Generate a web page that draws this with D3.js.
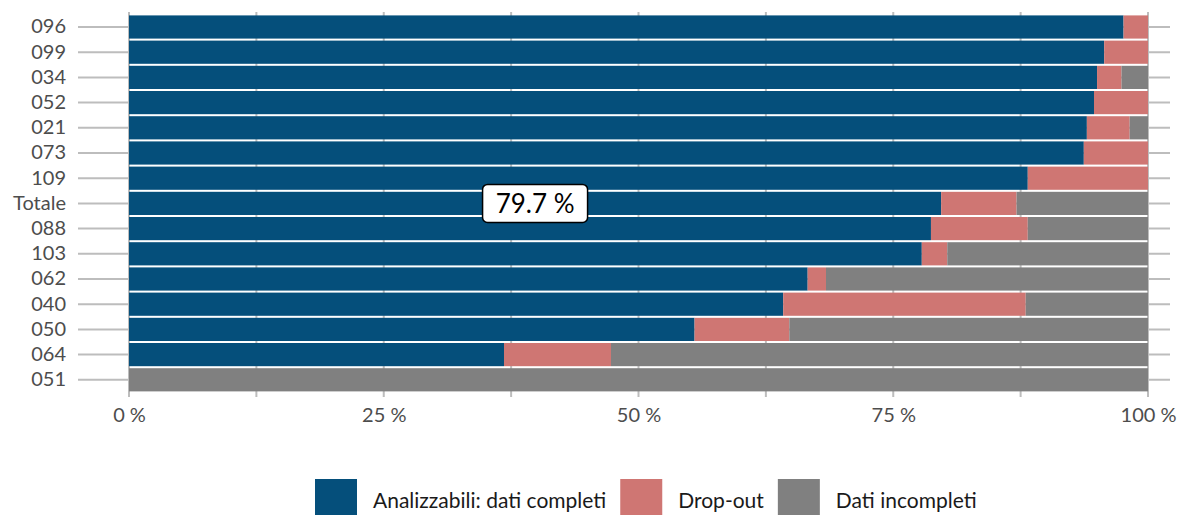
<!DOCTYPE html>
<html>
<head>
<meta charset="utf-8">
<script src="https://cdn.jsdelivr.net/npm/d3@7"></script>
<style>
  body { margin: 0; background: #fff; }
  svg { display: block; font-family: Lato, "Open Sans", sans-serif; }
</style>
</head>
<body>
<div id="chart"></div>
<script>
let chart_width = 1184;
let chart_height = 515;

// site codes, top to bottom
const sites = ["096","099","034","052","021","073","109","Totale","088","103","062","040","050","064","051"];
// percentages per site
const completi   = [97.6, 95.7, 95.0, 94.7, 94.0, 93.7, 88.2, 79.7, 78.7, 77.8, 66.6, 64.2, 55.5, 36.8, 0];
const dropout    = [ 2.4,  4.3,  2.4,  5.3,  4.2,  6.3, 11.8,  7.4,  9.5,  2.5,  1.8, 23.8,  9.3, 10.5, 0];
const incompleti = [ 0,    0,    2.6,  0,    1.8,  0,    0,   12.9, 11.8, 19.7, 31.6, 12.0, 35.2, 52.7, 100];

const seriesKeys = ["completi","dropout","incompleti"];
const seriesNames = ["Analizzabili: dati completi","Drop-out","Dati incompleti"];
const seriesColors = ["#054f7b","#cf7673","#808080"];
const xTicks = [0, 25, 50, 75, 100];
const labelSite = "Totale";

let rows = sites.map((s, i) => ({site: s, completi: completi[i], dropout: dropout[i], incompleti: incompleti[i]}));

let xScale = d3.scaleLinear().domain([0, 100]).range([129, 1148]);
let yScale = d3.scaleBand().domain(sites).range([14.4, 392.4]).paddingInner(0.08).paddingOuter(0.04);
let color = d3.scaleOrdinal().domain(seriesKeys).range(seriesColors);

let svg = d3.select('#chart')
    .append('svg')
    .attr('width', chart_width)
    .attr('height', chart_height);

// grid
let grid = svg.append('g').attr('class', 'grid');
grid.selectAll('line.h')
    .data(sites)
    .enter()
    .append('line')
    .attr('class', 'h')
    .attr('x1', 78)
    .attr('x2', 1170)
    .attr('y1', d => yScale(d) + yScale.bandwidth() / 2)
    .attr('y2', d => yScale(d) + yScale.bandwidth() / 2)
    .attr('stroke', '#bdbdbd')
    .attr('stroke-width', 2);

grid.selectAll('line.v')
    .data(d3.range(0, 100.1, 12.5))
    .enter()
    .append('line')
    .attr('class', 'v')
    .attr('x1', d => xScale(d))
    .attr('x2', d => xScale(d))
    .attr('y1', 12)
    .attr('y2', 397)
    .attr('stroke', '#bdbdbd')
    .attr('stroke-width', 2);

// bars
let stacked = d3.stack().keys(seriesKeys)(rows);

svg.append('g')
    .selectAll('g')
    .data(stacked)
    .enter()
    .append('g')
    .attr('fill', d => color(d.key))
    .selectAll('rect')
    .data(d => d)
    .enter()
    .append('rect')
    .attr('x', d => xScale(d[0]))
    .attr('y', d => yScale(d.data.site))
    .attr('width', d => xScale(d[1]) - xScale(d[0]))
    .attr('height', yScale.bandwidth());

// axes
let yAxis = svg.append('g')
    .attr('transform', 'translate(78,0)')
    .call(d3.axisLeft(yScale).tickSize(0).tickPadding(12));
yAxis.select('.domain').remove();
yAxis.selectAll('text')
    .attr('fill', '#4d4d4d')
    .style('font-size', '20px')
    .style('font-family', 'Lato');

let xAxis = svg.append('g')
    .attr('transform', 'translate(0,397)')
    .call(d3.axisBottom(xScale).tickValues(xTicks).tickSize(0).tickPadding(11).tickFormat(d => d + ' %'));
xAxis.select('.domain').remove();
xAxis.selectAll('text')
    .attr('fill', '#4d4d4d')
    .style('font-size', '20px')
    .style('font-family', 'Lato');

// label on Totale
let li = sites.indexOf(labelSite);
let lab = svg.append('g')
    .attr('transform', 'translate(' + xScale(completi[li] / 2) + ',' + (yScale(labelSite) + yScale.bandwidth() / 2) + ')');
let labBox = lab.append('rect')
    .attr('fill', '#fff')
    .attr('stroke', '#000')
    .attr('stroke-width', 1.5)
    .attr('rx', 5);
let labText = lab.append('text')
    .text(completi[li].toFixed(1) + ' %')
    .attr('text-anchor', 'middle')
    .attr('dy', '0.35em')
    .attr('fill', '#000')
    .style('font-size', '26px');
let bb = labText.node().getBBox();
labBox.attr('x', -52.5).attr('y', -19).attr('width', 105).attr('height', 38);

// legend
let legend = svg.append('g').attr('class', 'legend');
let lx = 315;
seriesKeys.forEach(function(k, i){
    legend.append('rect')
        .attr('x', lx)
        .attr('y', 479)
        .attr('width', 42)
        .attr('height', 42)
        .attr('fill', color(k));
    let t = legend.append('text')
        .text(seriesNames[i])
        .attr('x', lx + 58)
        .attr('y', 508)
        .attr('fill', '#1a1a1a')
        .style('font-size', '21px');
    lx = lx + 58 + t.node().getComputedTextLength() + 14;
});
</script>
</body>
</html>
